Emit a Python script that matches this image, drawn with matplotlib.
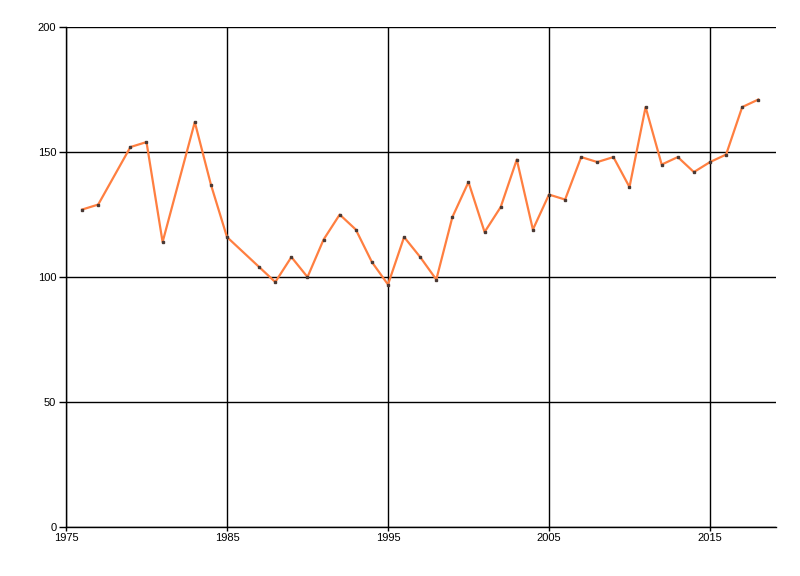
import matplotlib
matplotlib.use('Agg')
import matplotlib.pyplot as plt

years = [1976, 1977, 1979, 1980, 1981, 1983, 1984, 1985, 1987, 1988,
         1989, 1990, 1991, 1992, 1993, 1994, 1995, 1996, 1997, 1998,
         1999, 2000, 2001, 2002, 2003, 2004, 2005, 2006, 2007, 2008,
         2009, 2010, 2011, 2012, 2013, 2014, 2015, 2016, 2017, 2018]
values = [127, 129, 152, 154, 114, 162, 137, 116, 104, 98,
          108, 100, 115, 125, 119, 106, 97, 116, 108, 99,
          124, 138, 118, 128, 147, 119, 133, 131, 148, 146,
          148, 136, 168, 145, 148, 142, 146, 149, 168, 171]

x_ticks = [1975, 1985, 1995, 2005, 2015]
y_ticks = [0, 50, 100, 150, 200]

plt.rcParams['font.family'] = ['Liberation Sans', 'DejaVu Sans']

fig = plt.figure(figsize=(8, 5.76), dpi=100)
ax = fig.add_axes([0.0825, 0.085, 0.8875, 0.868])

ax.plot(years, values, color='#ff7f40', lw=1.6, zorder=3)
ax.plot(years, values, ls='none', marker='s', ms=1.8, color='#4a3a35', zorder=4)

ax.set_xlim(1975, 2019.1)
ax.set_ylim(0, 200)
ax.set_xticks(x_ticks)
ax.set_yticks(y_ticks)
ax.grid(True, color='black', lw=1.0)
ax.set_axisbelow(True)

for side in ['top', 'right']:
    ax.spines[side].set_visible(False)
for side in ['left', 'bottom']:
    ax.spines[side].set_linewidth(1.0)

ax.tick_params(axis='y', length=5, width=1, labelsize=8, pad=2)
ax.tick_params(axis='x', length=3, width=1, labelsize=8, pad=1)

plt.savefig('out.png', dpi=100)
